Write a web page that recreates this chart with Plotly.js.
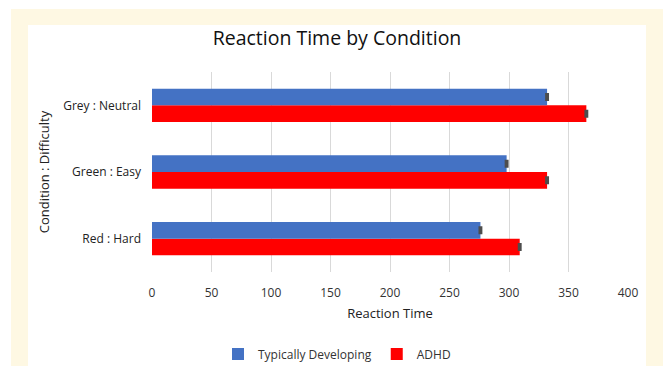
<!DOCTYPE html>
<html>
<head>
<meta charset="utf-8">
<script src="https://cdn.plot.ly/plotly-3.0.1.min.js"></script>
<style>
  html, body { margin: 0; padding: 0; background: #ffffff; width: 663px; height: 366px; overflow: hidden; }
  #frame { position: absolute; left: 11px; top: 9px; width: 652px; height: 357px; background: #fef8e3; }
  #chart { position: absolute; left: 17px; top: 16px; width: 618px; height: 341px; background: #ffffff; }
</style>
</head>
<body>
<div id="frame"><div id="chart"></div></div>
<script>
const categories = ['Red : Hard', 'Green : Easy', 'Grey : Neutral'];
const tdValues = [276, 298, 332];
const adhdValues = [309, 332, 365];
const tdErrors = [0.8, 0.8, 0.8];
const adhdErrors = [0.8, 0.8, 0.8];
const xTicks = [0, 50, 100, 150, 200, 250, 300, 350, 400];

const errStyle = { color: '#4d4d4d', thickness: 2, width: 4 };

const traces = [
  {
    type: 'bar', orientation: 'h', name: 'ADHD',
    y: categories, x: adhdValues,
    marker: { color: '#ff0000' },
    error_x: Object.assign({ type: 'data', array: adhdErrors, visible: true }, errStyle)
  },
  {
    type: 'bar', orientation: 'h', name: 'Typically Developing',
    y: categories, x: tdValues,
    marker: { color: '#4472c4' },
    error_x: Object.assign({ type: 'data', array: tdErrors, visible: true }, errStyle)
  }
];

const font = "Open Sans, Noto Sans, sans-serif";

const layout = {
  width: 618, height: 341,
  paper_bgcolor: '#ffffff', plot_bgcolor: '#ffffff',
  margin: { l: 124, r: 18, t: 47, b: 94, autoexpand: false },
  barmode: 'group', bargap: 0.5, bargroupgap: 0,
  font: { family: font, size: 12, color: '#333333' },
  title: { text: 'Reaction Time by Condition', font: { family: font, size: 19.5, color: '#111111' }, x: 0.5, xanchor: 'center', yref: 'container', y: 0.962, yanchor: 'middle' },
  xaxis: {
    range: [0, 400], tickvals: xTicks, ticktext: xTicks.map(String),
    showgrid: true, gridcolor: '#d9d9d9', gridwidth: 1, zeroline: false,
    showline: false, ticks: '', tickfont: { size: 12, color: '#333333' }, ticklabelstandoff: 12,
    title: { text: 'Reaction Time', font: { size: 13, color: '#222222' }, standoff: 8 }
  },
  yaxis: {
    type: 'category', categoryorder: 'array', categoryarray: categories,
    showgrid: false, zeroline: false, showline: false, ticks: '',
    tickfont: { size: 12, color: '#222222' }, ticklabelstandoff: 10,
    title: { text: 'Condition : Difficulty', font: { size: 13, color: '#222222' }, standoff: 10 }
  },
  showlegend: true,
  legend: {
    orientation: 'h', traceorder: 'reversed', x: 0.5, xanchor: 'center', xref: 'container',
    yref: 'container', y: 0.035, yanchor: 'middle',
    font: { size: 12, color: '#333333' }
  }
};

Plotly.newPlot('chart', traces, layout, { displayModeBar: false, staticPlot: true });
</script>
</body>
</html>
